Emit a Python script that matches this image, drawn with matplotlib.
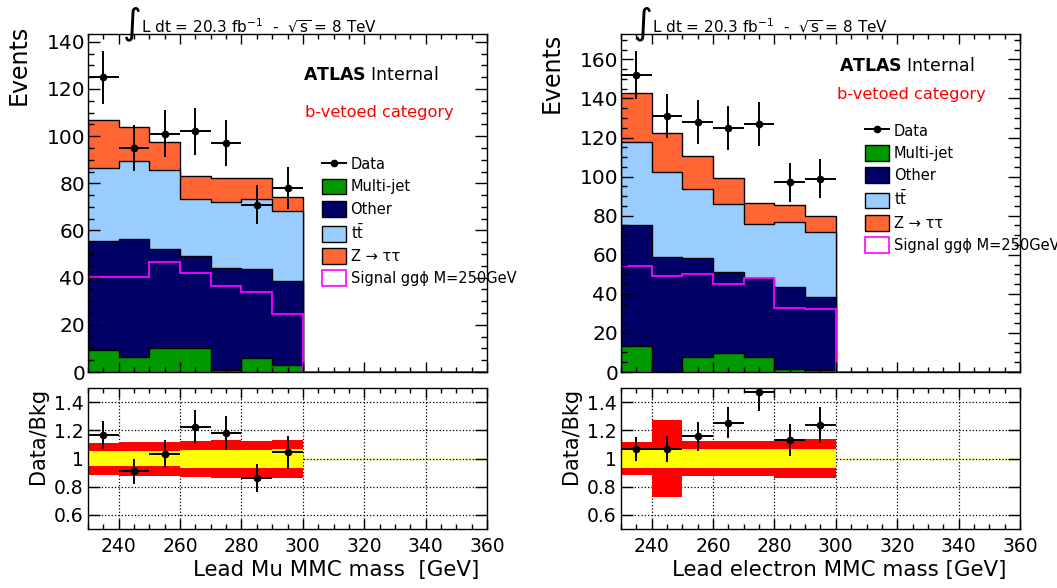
import numpy as np
import matplotlib
matplotlib.use('AGG')
import matplotlib.pyplot as plt
from matplotlib.patches import Patch
from matplotlib.lines import Line2D
from matplotlib.ticker import MultipleLocator, FixedLocator, FuncFormatter

# binning: 10 GeV bins, only 230-300 populated
bin_edges = np.arange(230, 361, 10)
bin_centres = [235, 245, 255, 265, 275, 285, 295]

# ---- lead muon channel (left) ----
mu_multijet = [9.4, 6.5, 10.3, 10.3, 0.8, 5.8, 3.0]
mu_other = [46.2, 49.7, 41.7, 39.0, 43.2, 37.8, 35.4]
mu_ttbar = [30.7, 33.3, 33.6, 24.2, 28.2, 29.8, 29.9]
mu_ztautau = [20.7, 14.5, 12.1, 9.5, 10.0, 9.0, 6.1]
mu_signal = [40.1, 40.4, 46.7, 41.8, 36.5, 33.8, 24.6]
mu_data = [125, 95, 101, 102, 97, 71, 78]
mu_data_err = [11.2, 9.7, 10.0, 10.1, 9.8, 8.4, 8.8]
mu_ratio = [1.167, 0.910, 1.031, 1.221, 1.181, 0.860, 1.043]
mu_ratio_err = [0.10, 0.09, 0.10, 0.12, 0.12, 0.10, 0.12]
mu_red_hi = [1.111, 1.119, 1.119, 1.124, 1.131, 1.124, 1.131]
mu_red_lo = [0.883, 0.876, 0.876, 0.869, 0.862, 0.862, 0.862]
mu_yel_hi = [1.052, 1.052, 1.052, 1.057, 1.062, 1.057, 1.069]
mu_yel_lo = [0.945, 0.945, 0.945, 0.936, 0.931, 0.933, 0.931]

# ---- lead electron channel (right) ----
el_multijet = [13.4, 0.0, 7.7, 9.9, 7.7, 1.5, 1.0]
el_other = [61.9, 59.1, 50.4, 41.4, 40.3, 42.0, 37.5]
el_ttbar = [42.6, 43.5, 35.6, 34.9, 27.8, 33.2, 33.1]
el_ztautau = [24.7, 19.9, 16.9, 13.3, 10.6, 8.8, 8.2]
el_signal = [54.0, 48.9, 50.4, 44.8, 48.0, 32.7, 32.0]
el_data = [152, 131, 128, 125, 127, 97, 99]
el_data_err = [12.3, 11.4, 11.3, 11.2, 11.3, 9.8, 9.9]
el_ratio = [1.067, 1.067, 1.157, 1.255, 1.469, 1.133, 1.238]
el_ratio_err = [0.086, 0.093, 0.102, 0.112, 0.13, 0.115, 0.125]
el_red_hi = [1.116, 1.274, 1.124, 1.124, 1.124, 1.138, 1.138]
el_red_lo = [0.883, 0.726, 0.876, 0.876, 0.876, 0.859, 0.859]
el_yel_hi = [1.057, 1.066, 1.066, 1.066, 1.066, 1.066, 1.066]
el_yel_lo = [0.936, 0.931, 0.936, 0.936, 0.936, 0.931, 0.931]

legend_labels = ['Data', 'Multi-jet', 'Other', r'$\mathregular{t\bar{t}}$',
                 'Z → ττ', 'Signal ggϕ M=250GeV']

col_multijet = '#009900'
col_other = '#000066'
col_ttbar = '#99ccff'
col_ztautau = '#ff6633'
col_signal = '#ff00ff'


def pad(vals, fill=0.0):
    # extend the 230-300 values to the full 230-360 range
    return np.concatenate([np.asarray(vals, float), np.full(len(bin_edges) - 1 - len(vals), fill)])


def set_ticks(ax):
    ax.set_xlim(230, 360)
    ax.xaxis.set_major_locator(MultipleLocator(20))
    ax.xaxis.set_minor_locator(MultipleLocator(5))
    ax.tick_params(which='both', direction='in', top=True, right=True, width=1)
    ax.tick_params(axis='x', which='major', length=7)
    ax.tick_params(axis='x', which='minor', length=3.5)
    for s in ax.spines.values():
        s.set_linewidth(1.0)


def draw_main(ax, layers, signal, data, data_err, ymax, leg_pos, head_x, atlas_pos, cat_pos, events_top):
    cum = np.cumsum(np.vstack(layers), axis=0)
    colors = [col_multijet, col_other, col_ttbar, col_ztautau]
    for i in reversed(range(len(layers))):
        ax.stairs(pad(cum[i]), bin_edges, baseline=0, fill=True,
                  facecolor=colors[i], edgecolor='black', lw=1.0)
    ax.stairs(pad(signal), bin_edges, baseline=None, color=col_signal, lw=1.3)
    ax.errorbar(bin_centres, data, xerr=5, yerr=data_err, fmt='o', color='black',
                ms=4.5, elinewidth=1.4, capsize=0, zorder=5)

    set_ticks(ax)
    ax.set_ylim(0, ymax)
    ax.yaxis.set_major_locator(MultipleLocator(20))
    ax.yaxis.set_minor_locator(MultipleLocator(5))
    ax.tick_params(axis='y', which='major', length=8.5, labelsize=14.5, pad=2)
    ax.tick_params(axis='y', which='minor', length=4.2)
    ax.tick_params(axis='x', labelbottom=False)

    handles = [Line2D([], [], color='black', marker='o', ms=4.5, lw=1.4),
               Patch(facecolor=col_multijet, edgecolor='black', lw=1),
               Patch(facecolor=col_other, edgecolor='black', lw=1),
               Patch(facecolor=col_ttbar, edgecolor='black', lw=1),
               Patch(facecolor=col_ztautau, edgecolor='black', lw=1),
               Patch(facecolor='white', edgecolor=col_signal, lw=1.2)]
    ax.legend(handles, legend_labels, loc='upper left', bbox_to_anchor=leg_pos,
              frameon=False, fontsize=10.5, handlelength=1.65, handleheight=1.3,
              labelspacing=0.43, handletextpad=0.32, borderpad=0, borderaxespad=0)

    ax.text(head_x, 1.03, '∫', transform=ax.transAxes, fontsize=26, ha='left', va='center')
    ax.text(head_x + 0.045, 1.006, r'L dt = 20.3 fb$^{-1}$  -  $\sqrt{\mathregular{s}}$ = 8 TeV',
            transform=ax.transAxes, fontsize=11, ha='left', va='baseline')
    ax.text(atlas_pos[0], atlas_pos[1], r'$\mathbf{ATLAS}$ Internal', transform=ax.transAxes,
            fontsize=12.5, ha='left', va='baseline')
    ax.text(cat_pos[0], cat_pos[1], 'b-vetoed category', transform=ax.transAxes,
            fontsize=11.7, color='red', ha='left', va='baseline')
    ax.text(-0.175, events_top, 'Events', transform=ax.transAxes, rotation=90,
            fontsize=17, ha='center', va='top')


def draw_ratio(ax, ratio, ratio_err, red_lo, red_hi, yel_lo, yel_hi, xlabel, xlabel_x):
    ax.axhline(1.0, color='yellow', lw=1.0, zorder=1)
    ax.stairs(pad(red_hi, 1.0), bin_edges, baseline=pad(red_lo, 1.0), fill=True, color='red', zorder=2)
    ax.stairs(pad(yel_hi, 1.0), bin_edges, baseline=pad(yel_lo, 1.0), fill=True, color='yellow', zorder=2)
    ax.errorbar(bin_centres, ratio, xerr=5, yerr=ratio_err, fmt='o', color='black',
                ms=4.5, elinewidth=1.4, capsize=0, zorder=5)

    set_ticks(ax)
    ax.set_ylim(0.5, 1.5)
    ax.yaxis.set_major_locator(FixedLocator([0.6, 0.8, 1.0, 1.2, 1.4]))
    ax.yaxis.set_major_formatter(FuncFormatter(lambda v, p: '%g' % round(v, 2)))
    ax.tick_params(axis='y', which='major', length=8.5, labelsize=13.5, pad=3)
    ax.tick_params(axis='x', which='major', labelsize=13.5, pad=5.5)
    ax.grid(True, which='major', ls=':', color='black', lw=0.9)

    ax.text(-0.125, 1.0, 'Data/Bkg', transform=ax.transAxes, rotation=90,
            fontsize=15, ha='center', va='top')
    ax.text(xlabel_x, -0.33, xlabel, transform=ax.transAxes, fontsize=15.4,
            ha='right', va='baseline')


fig = plt.figure(figsize=(10.57, 5.88), dpi=100)
W, H = 1057.0, 588.0
ax_mu = fig.add_axes([88 / W, 1 - 372 / H, 399 / W, 338 / H])
ax_mu_r = fig.add_axes([88 / W, 1 - 529 / H, 399 / W, 141 / H])
ax_el = fig.add_axes([621 / W, 1 - 372 / H, 399 / W, 338 / H])
ax_el_r = fig.add_axes([621 / W, 1 - 529 / H, 399 / W, 141 / H])

draw_main(ax_mu, [mu_multijet, mu_other, mu_ttbar, mu_ztautau], mu_signal, mu_data, mu_data_err,
          143.3, (0.586, 0.638), 0.088, (0.539, 0.864), (0.544, 0.754), 1.027)
draw_main(ax_el, [el_multijet, el_other, el_ttbar, el_ztautau], el_signal, el_data, el_data_err,
          173, (0.612, 0.737), 0.033, (0.546, 0.891), (0.541, 0.808), 1.003)

draw_ratio(ax_mu_r, mu_ratio, mu_ratio_err, mu_red_lo, mu_red_hi, mu_yel_lo, mu_yel_hi,
           'Lead Mu MMC mass  [GeV]', 0.982)
draw_ratio(ax_el_r, el_ratio, el_ratio_err, el_red_lo, el_red_hi, el_yel_lo, el_yel_hi,
           'Lead electron MMC mass [GeV]', 0.967)

plt.savefig('out.png', dpi=100)
plt.close()
